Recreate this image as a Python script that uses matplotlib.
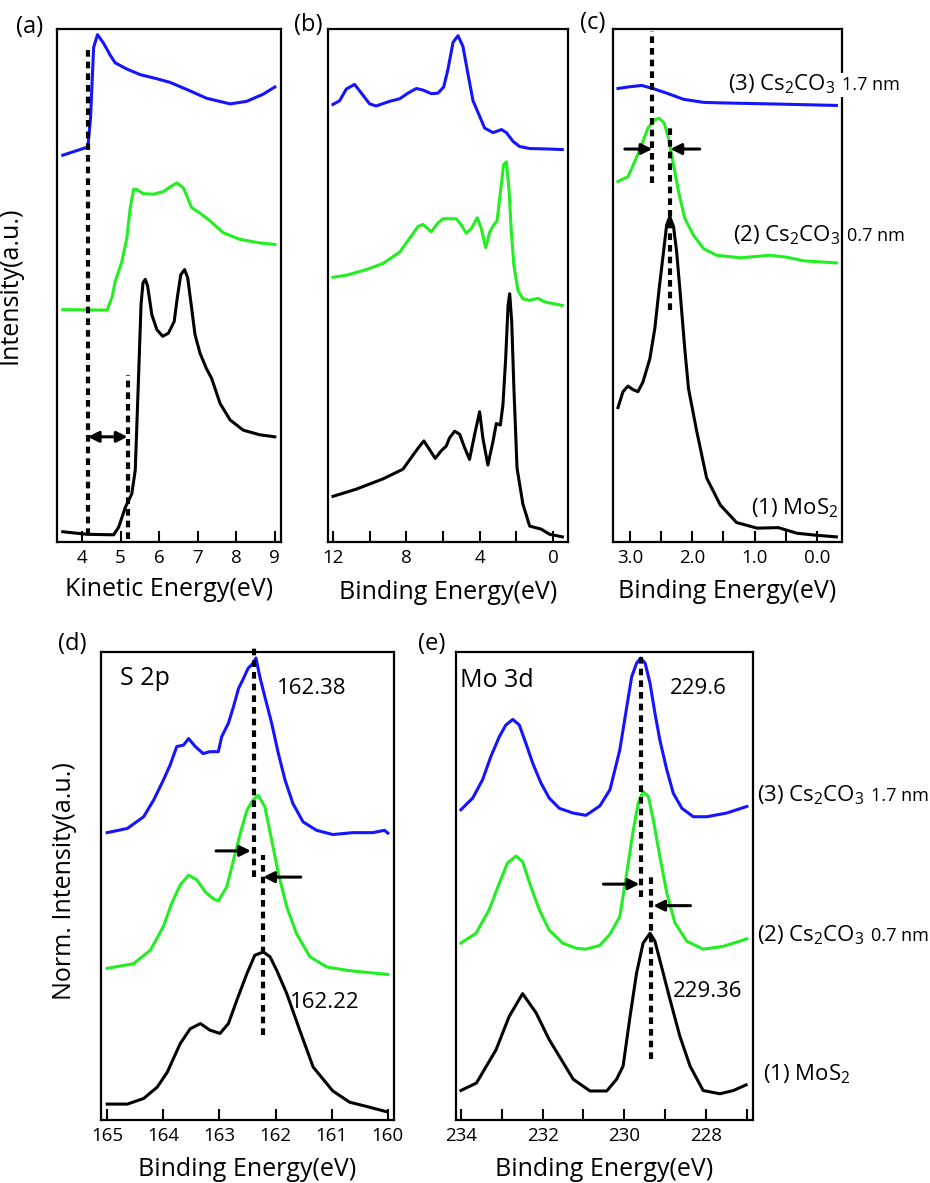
import numpy as np
import matplotlib.pyplot as plt

plt.rcParams['font.family'] = ['Open Sans', 'DejaVu Sans']
plt.rcParams['mathtext.fontset'] = 'custom'
plt.rcParams['mathtext.rm'] = 'Open Sans'

BLUE = '#1414ff'
GREEN = '#22ee22'
BLACK = 'black'

# ---- panel (a): secondary electron cutoff, kinetic energy (eV) ----
a_blue_x = [3.5, 4.15, 4.22, 4.30, 4.40, 4.56, 4.73, 4.86, 5.16, 5.51, 5.94, 6.28, 6.72, 7.23, 7.84, 8.27, 8.70, 9.0]
a_blue_y = [75.4, 77.0, 82.7, 96.4, 98.9, 97.2, 94.9, 93.4, 92.2, 91.1, 90.3, 89.6, 88.2, 86.5, 85.4, 85.9, 87.3, 88.7]
a_green_x = [3.5, 4.65, 4.78, 4.86, 5.03, 5.16, 5.25, 5.34, 5.42, 5.59, 5.85, 6.11, 6.28, 6.46, 6.63, 6.84, 7.06, 7.32, 7.66, 8.09, 8.61, 9.0]
a_green_y = [45.3, 45.2, 47.8, 50.8, 54.6, 59.2, 65.2, 68.8, 68.7, 67.9, 67.8, 68.3, 69.2, 70.0, 69.0, 65.2, 64.1, 62.6, 60.3, 59.0, 58.3, 58.0]
a_black_x = [3.5, 4.13, 4.82, 4.95, 5.12, 5.29, 5.38, 5.47, 5.53, 5.58, 5.64, 5.70, 5.81, 5.94, 6.09, 6.24, 6.39, 6.47, 6.56, 6.66, 6.74, 6.83, 6.93, 7.06, 7.22, 7.36, 7.58, 7.84, 8.18, 8.61, 9.0]
a_black_y = [2.0, 1.5, 1.4, 2.9, 6.7, 9.4, 14.0, 33.2, 46.3, 50.5, 51.2, 49.9, 44.3, 41.4, 40.1, 40.7, 43.0, 47.6, 52.1, 53.1, 51.5, 46.3, 40.4, 36.8, 33.9, 31.9, 27.0, 23.8, 21.8, 20.9, 20.5]
a_cutoffs = [4.15, 5.18]

# ---- panel (b): valence band, binding energy (eV) ----
b_blue_x = [12, 11.64, 11.27, 10.82, 10.45, 10.0, 9.64, 8.91, 8.36, 7.91, 7.45, 7.09, 6.64, 6.27, 5.96, 5.73, 5.45, 5.18, 4.91, 4.64, 4.36, 4.0, 3.73, 3.27, 2.81, 2.54, 2.18, 1.82, 1.27, 0.18, -0.51]
b_blue_y = [85.3, 86.0, 88.3, 89.2, 87.5, 85.4, 85.0, 85.9, 86.4, 87.5, 88.4, 88.1, 87.4, 87.5, 88.7, 92.1, 97.4, 98.7, 96.6, 91.3, 86.0, 83.0, 80.7, 79.8, 80.4, 79.8, 78.1, 77.1, 76.7, 76.6, 76.5]
b_green_x = [12, 11.27, 10.18, 9.27, 8.36, 7.82, 7.36, 7.09, 6.64, 6.27, 6.0, 5.27, 5.0, 4.73, 4.45, 4.13, 3.91, 3.67, 3.45, 3.27, 3.05, 2.87, 2.69, 2.54, 2.40, 2.27, 2.13, 1.91, 1.64, 1.27, 0.82, 0.45, -0.51]
b_green_y = [51.6, 52.0, 53.1, 54.3, 56.5, 59.2, 61.5, 61.9, 60.5, 62.2, 63.0, 63.0, 61.8, 60.2, 61.1, 63.2, 61.1, 57.4, 60.4, 61.6, 62.6, 68.1, 73.6, 74.1, 68.8, 60.4, 53.9, 49.0, 47.4, 47.1, 47.5, 46.8, 46.1]
b_black_x = [12, 10.73, 9.27, 8.18, 7.64, 7.27, 7.04, 6.73, 6.42, 6.09, 5.82, 5.64, 5.36, 5.09, 4.82, 4.55, 4.27, 4.0, 3.82, 3.55, 3.27, 3.09, 2.87, 2.73, 2.58, 2.45, 2.36, 2.25, 2.13, 1.96, 1.64, 1.27, 0.64, 0.18, -0.51]
b_black_y = [8.9, 10.3, 12.3, 14.2, 16.9, 18.7, 19.7, 18.0, 16.3, 17.8, 18.7, 20.3, 21.6, 21.0, 18.4, 16.1, 21.0, 25.4, 20.2, 15.0, 19.6, 23.1, 22.8, 26.7, 35.7, 46.1, 48.4, 42.9, 29.9, 14.4, 7.4, 3.1, 2.5, 1.5, 1.0]

# ---- panel (c): valence band maximum region ----
c_blue_x = [3.19, 3.03, 2.81, 2.63, 2.41, 2.14, 1.82, 1.55, 0.75, -0.31]
c_blue_y = [88.4, 88.7, 89.0, 88.4, 87.5, 86.3, 85.7, 85.6, 85.4, 85.1]
c_green_x = [3.19, 3.03, 2.92, 2.81, 2.71, 2.60, 2.53, 2.45, 2.38, 2.30, 2.22, 2.12, 1.98, 1.82, 1.61, 1.23, 0.75, 0.48, 0.21, -0.31]
c_green_y = [70.3, 71.2, 74.2, 77.4, 80.7, 82.3, 82.6, 81.7, 78.7, 73.5, 68.3, 63.1, 59.8, 57.2, 55.9, 55.4, 55.9, 55.5, 54.8, 54.4]
c_black_x = [3.19, 3.11, 3.03, 2.95, 2.87, 2.79, 2.68, 2.60, 2.53, 2.46, 2.41, 2.36, 2.30, 2.25, 2.19, 2.12, 2.06, 1.93, 1.77, 1.55, 1.29, 0.96, 0.62, 0.32, 0.0, -0.31]
c_black_y = [26.2, 29.3, 30.4, 29.7, 29.3, 31.2, 35.7, 41.6, 49.4, 56.6, 61.8, 63.4, 61.5, 56.6, 48.1, 37.7, 29.9, 21.7, 12.5, 7.2, 3.8, 2.7, 2.8, 1.7, 1.3, 1.0]
c_peaks = [2.64, 2.35]

# ---- panel (d): S 2p core level ----
d_blue_x = [165.0, 164.64, 164.35, 164.17, 164.0, 163.88, 163.76, 163.64, 163.55, 163.43, 163.29, 163.17, 163.02, 162.96, 162.84, 162.75, 162.66, 162.57, 162.49, 162.40, 162.35, 162.28, 162.19, 162.07, 161.95, 161.83, 161.69, 161.51, 161.27, 160.98, 160.62, 160.27, 160.06, 160.0]
d_blue_y = [61.4, 62.3, 64.8, 68.4, 72.6, 75.8, 79.8, 80.1, 81.5, 79.8, 78.3, 78.7, 78.7, 81.9, 84.8, 88.3, 92.2, 94.4, 96.5, 97.6, 98.7, 94.7, 90.4, 84.8, 78.3, 72.6, 67.6, 63.7, 61.9, 61.0, 61.4, 61.4, 61.9, 61.3]
d_green_x = [165.0, 164.53, 164.23, 164.0, 163.85, 163.70, 163.55, 163.40, 163.25, 163.11, 163.02, 162.87, 162.75, 162.63, 162.51, 162.40, 162.31, 162.19, 162.07, 161.95, 161.80, 161.63, 161.39, 161.09, 160.68, 160.0]
d_green_y = [32.4, 33.4, 36.3, 41.3, 46.3, 50.2, 52.3, 51.3, 48.7, 47.3, 46.8, 49.8, 55.5, 61.2, 66.2, 68.4, 69.4, 66.9, 59.8, 52.7, 45.5, 39.9, 34.9, 32.7, 31.9, 31.1]
d_black_x = [165.0, 164.64, 164.35, 164.11, 163.93, 163.70, 163.52, 163.34, 163.17, 162.99, 162.84, 162.69, 162.51, 162.37, 162.22, 162.10, 161.98, 161.80, 161.57, 161.33, 160.98, 160.68, 160.38, 160.03]
d_black_y = [3.4, 3.4, 4.6, 7.0, 10.2, 16.3, 19.5, 20.6, 19.2, 18.5, 20.6, 25.6, 31.3, 35.2, 35.9, 34.9, 32.0, 27.0, 19.2, 11.3, 6.2, 3.8, 2.9, 1.8]
d_peaks = [162.38, 162.22]

# ---- panel (e): Mo 3d core level ----
e_blue_x = [234.0, 233.71, 233.47, 233.27, 233.06, 232.90, 232.73, 232.57, 232.41, 232.24, 232.04, 231.84, 231.59, 231.26, 230.94, 230.60, 230.35, 230.11, 229.94, 229.82, 229.70, 229.60, 229.49, 229.37, 229.25, 229.13, 228.96, 228.80, 228.59, 228.31, 227.98, 227.49, 227.0]
e_blue_y = [66.3, 68.8, 72.7, 77.6, 81.9, 84.4, 85.6, 84.4, 80.5, 76.2, 72.0, 68.8, 66.6, 65.6, 65.1, 67.1, 70.6, 79.1, 88.3, 94.7, 97.6, 98.7, 97.6, 93.3, 86.9, 81.2, 74.8, 69.8, 66.6, 64.8, 64.8, 65.6, 67.0]
e_green_x = [234.0, 233.63, 233.31, 233.06, 232.86, 232.65, 232.49, 232.29, 232.08, 231.84, 231.51, 231.18, 230.94, 230.60, 230.35, 230.11, 229.94, 229.78, 229.66, 229.54, 229.41, 229.29, 229.13, 228.96, 228.76, 228.47, 228.07, 227.58, 227.0]
e_green_y = [37.8, 39.9, 44.9, 50.6, 54.9, 56.4, 55.2, 49.9, 44.9, 40.6, 37.8, 36.7, 36.5, 37.3, 39.7, 43.5, 52.8, 62.0, 67.7, 70.2, 69.1, 64.1, 56.3, 48.5, 42.1, 38.2, 36.5, 37.1, 38.7]
e_black_x = [234.0, 233.62, 233.14, 232.82, 232.49, 232.16, 231.84, 231.25, 230.84, 230.43, 230.19, 230.03, 229.86, 229.70, 229.54, 229.37, 229.25, 229.09, 228.88, 228.64, 228.39, 228.07, 227.66, 227.33, 227.02]
e_black_y = [6.3, 7.9, 15.0, 22.1, 27.0, 22.9, 17.2, 8.7, 6.2, 6.2, 8.7, 11.5, 22.1, 31.4, 37.8, 39.9, 38.2, 32.8, 25.7, 17.9, 11.5, 6.3, 5.6, 6.3, 7.5]
e_peaks = [229.59, 229.35]

W, H = 930, 1183


def box(l, t, r, b):
    return [l / W, 1 - b / H, (r - l) / W, (b - t) / H]


def style(ax, xlim, major, minor=None, xlabel='', xlab_y=-0.095):
    ax.set_xlim(*xlim)
    ax.set_ylim(0, 100)
    ax.set_yticks([])
    ax.set_xticks(major)
    if minor is not None:
        ax.set_xticks(minor, minor=True)
    ax.tick_params(axis='x', which='both', direction='in', length=8, width=1.5,
                   labelsize=13.5, pad=5, top=False)
    for s in ax.spines.values():
        s.set_linewidth(1.6)
    ax.set_xlabel(xlabel, fontsize=18)
    ax.xaxis.set_label_coords(0.5, xlab_y)
    ax.xaxis.label.set_verticalalignment('center')


def curves(ax, data):
    for x, y, c in data:
        ax.plot(x, y, color=c, lw=2.2, solid_joinstyle='round')


def vdash(ax, x, y0, y1):
    ax.plot([x, x], [y0, y1], color='black', lw=3, ls=(0, (1.6, 1.2)), clip_on=False)


def arrow(ax, x0, x1, y, style_='-|>'):
    ax.annotate('', xy=(x1, y), xytext=(x0, y),
                arrowprops=dict(arrowstyle=style_, color='black', lw=2.2,
                                mutation_scale=16, shrinkA=0, shrinkB=0))


def sample_label(x, y, main, thick, bg=False):
    t = fig.text(x / W, 1 - y / H, main, fontsize=16, ha='left', va='baseline')
    kw = dict(facecolor='white', edgecolor='none', pad=2) if bg else None
    fig.axes[-1].annotate(thick, xy=(1, 0), xycoords=t, xytext=(5, 4),
                          textcoords='offset points', fontsize=13,
                          ha='left', va='baseline', bbox=kw, zorder=5)


fig = plt.figure(figsize=(9.3, 11.83), dpi=100)

# (a)
ax = fig.add_axes(box(57, 29, 281, 542))
curves(ax, [(a_blue_x, a_blue_y, BLUE), (a_green_x, a_green_y, GREEN), (a_black_x, a_black_y, BLACK)])
vdash(ax, a_cutoffs[0], 1.4, 96.0)
vdash(ax, a_cutoffs[1], 0.6, 32.5)
arrow(ax, a_cutoffs[0], a_cutoffs[1], 20.5, '<|-|>')
style(ax, (3.35, 9.16), [4, 5, 6, 7, 8, 9], xlabel='Kinetic Energy(eV)', xlab_y=-0.092)
ax.set_ylabel('Intensity(a.u.)', fontsize=18)
ax.yaxis.set_label_coords((23 - 57) / 224, 0.5)
fig.text(30 / W, 1 - 27 / H, '(a)', fontsize=17, ha='center', va='center')

# (b)
ax = fig.add_axes(box(328, 29, 568, 542))
curves(ax, [(b_blue_x, b_blue_y, BLUE), (b_green_x, b_green_y, GREEN), (b_black_x, b_black_y, BLACK)])
style(ax, (12.27, -0.82), [12, 8, 4, 0], [10, 6, 2], xlabel='Binding Energy(eV)', xlab_y=-0.099)
fig.text(308 / W, 1 - 25 / H, '(b)', fontsize=17, ha='center', va='center')

# (c)
ax = fig.add_axes(box(613, 29, 842, 542))
curves(ax, [(c_blue_x, c_blue_y, BLUE), (c_green_x, c_green_y, GREEN), (c_black_x, c_black_y, BLACK)])
vdash(ax, c_peaks[0], 70.0, 99.6)
vdash(ax, c_peaks[1], 45.2, 81.0)
arrow(ax, 3.08, c_peaks[0], 76.6)
arrow(ax, 1.88, c_peaks[1], 76.6)
style(ax, (3.27, -0.40), [3.0, 2.0, 1.0, 0.0], [2.5, 1.5, 0.5], xlabel='Binding Energy(eV)', xlab_y=-0.096)
ax.set_xticklabels(['3.0', '2.0', '1.0', '0.0'])
fig.text(593 / W, 1 - 23 / H, '(c)', fontsize=17, ha='center', va='center')
sample_label(728, 90, r'(3) Cs$_2$CO$_3$', '1.7 nm', bg=True)
sample_label(733, 241, r'(2) Cs$_2$CO$_3$', '0.7 nm', bg=True)
fig.text(838 / W, 1 - 514 / H, r'(1) MoS$_2$', fontsize=16, ha='right', va='baseline')

# (d)
ax = fig.add_axes(box(101, 652, 394, 1120))
curves(ax, [(d_blue_x, d_blue_y, BLUE), (d_green_x, d_green_y, GREEN), (d_black_x, d_black_y, BLACK)])
vdash(ax, d_peaks[0], 51.9, 100.8)
vdash(ax, d_peaks[1], 18.1, 56.7)
arrow(ax, 163.06, 162.44, 57.5)
arrow(ax, 161.55, d_peaks[1], 51.9)
style(ax, (165.11, 159.89), [165, 164, 163, 162, 161, 160], xlabel='Binding Energy(eV)', xlab_y=-0.105)
ax.set_ylabel('Norm. Intensity(a.u.)', fontsize=18)
ax.yaxis.set_label_coords((77 - 101) / 293, 0.51)
ax.text(164.77, 94.4, 'S 2p', fontsize=18, va='center')
ax.text(161.98, 92.1, '162.38', fontsize=16, va='center')
ax.text(161.75, 25.0, '162.22', fontsize=16, va='center')
fig.text(72 / W, 1 - 644 / H, '(d)', fontsize=17, ha='center', va='center')

# (e)
ax = fig.add_axes(box(456, 652, 753, 1120))
curves(ax, [(e_blue_x, e_blue_y, BLUE), (e_green_x, e_green_y, GREEN), (e_black_x, e_black_y, BLACK)])
vdash(ax, e_peaks[0], 47.6, 100.3)
vdash(ax, e_peaks[1], 13.1, 52.0)
arrow(ax, 230.51, 229.63, 50.4)
arrow(ax, 228.38, 229.29, 45.8)
style(ax, (234.12, 226.85), [234, 232, 230, 228], [233, 231, 229, 227], xlabel='Binding Energy(eV)', xlab_y=-0.105)
ax.text(234.02, 94.0, 'Mo 3d', fontsize=18, va='center')
ax.text(228.88, 92.3, '229.6', fontsize=16, va='center')
ax.text(228.80, 27.4, '229.36', fontsize=16, va='center')
fig.text(432 / W, 1 - 644 / H, '(e)', fontsize=17, ha='center', va='center')
sample_label(757, 801, r'(3) Cs$_2$CO$_3$', '1.7 nm')
sample_label(757, 941, r'(2) Cs$_2$CO$_3$', '0.7 nm')
fig.text(763 / W, 1 - 1080 / H, r'(1) MoS$_2$', fontsize=16, ha='left', va='baseline')

fig.savefig('out.png', dpi=100)
